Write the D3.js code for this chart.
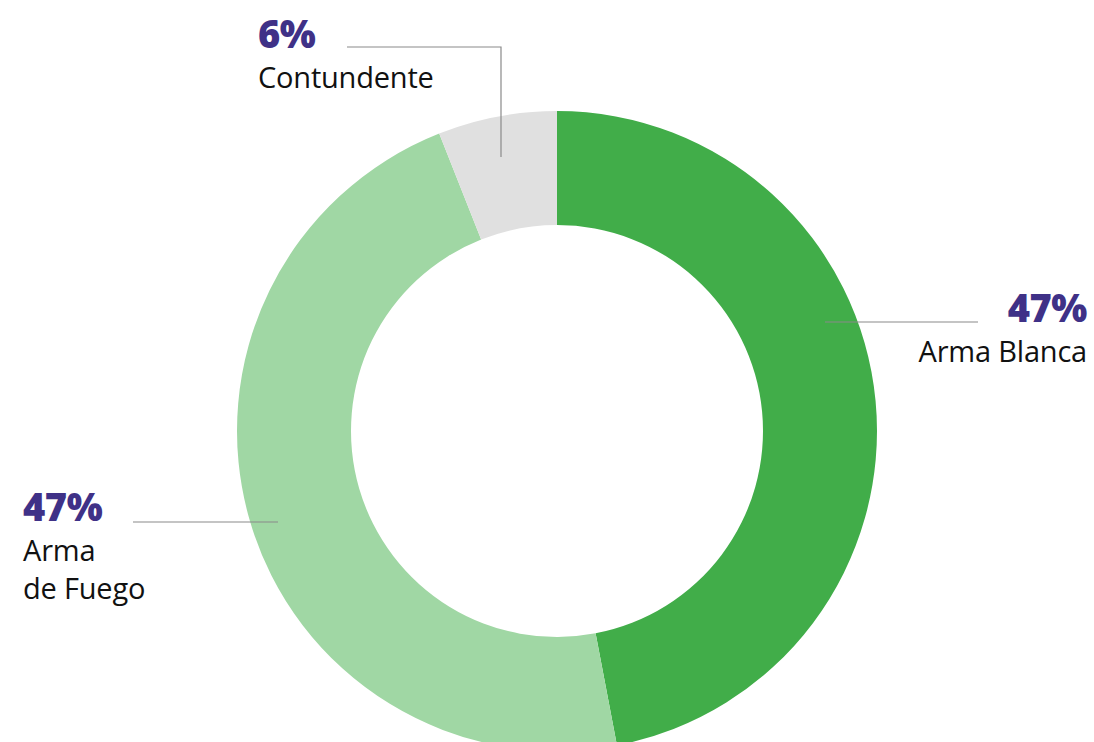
<!DOCTYPE html>
<html><head><meta charset="utf-8">
<script src="https://cdn.jsdelivr.net/npm/d3@7"></script>
<style>
html,body{margin:0;padding:0;background:#fff;}
svg{display:block;}
text{font-family:"Open Sans","Noto Sans",sans-serif;}
</style></head>
<body>
<svg id="chart" width="1094" height="742"></svg>
<script>
const categories = ["Arma Blanca", "Arma de Fuego", "Contundente"];
const values = [47, 47, 6];
const percentLabels = ["47%", "47%", "6%"];
const nameLines = [["Arma Blanca"], ["Arma", "de Fuego"], ["Contundente"]];
const colors = ["#41ad49", "#a0d7a4", "#e0e0e0"];

const svg = d3.select("#chart");
const cx = 557, cy = 431, outerR = 320, innerR = 206;
const g = svg.append("g").attr("transform", `translate(${cx},${cy})`);

const pie = d3.pie().sort(null).value(d => d)(values);
const arc = d3.arc().innerRadius(innerR).outerRadius(outerR);
g.selectAll("path").data(pie).join("path")
  .attr("d", arc).attr("fill", (d, i) => colors[i]);

// label layout
const layout = [
  {anchor: "end", x: 1087, y: 322, line: [[825, 322], [978, 322]]},
  {anchor: "start", x: 23, y: 521, line: [[133, 522], [278, 522]]},
  {anchor: "start", x: 258, y: 48, line: [[347, 47], [501, 47], [501, 157]]}
];
const lineGen = d3.line();
layout.forEach((L, i) => {
  svg.append("path").attr("d", lineGen(L.line))
    .attr("fill", "none").attr("stroke", "#8a8a8a").attr("stroke-width", 1.2);
  svg.append("text").attr("x", L.x).attr("y", L.y)
    .attr("text-anchor", L.anchor)
    .attr("font-size", 38).attr("font-weight", 800).attr("fill", "#3f3187")
    .attr("letter-spacing", -0.4)
    .text(percentLabels[i]);
  nameLines[i].forEach((t, j) => {
    svg.append("text").attr("x", L.x).attr("y", L.y + 40 + j * 38)
      .attr("text-anchor", L.anchor)
      .attr("font-size", 29).attr("fill", "#111")
      .attr("letter-spacing", -0.2)
      .text(t);
  });
});
</script>
</body></html>
